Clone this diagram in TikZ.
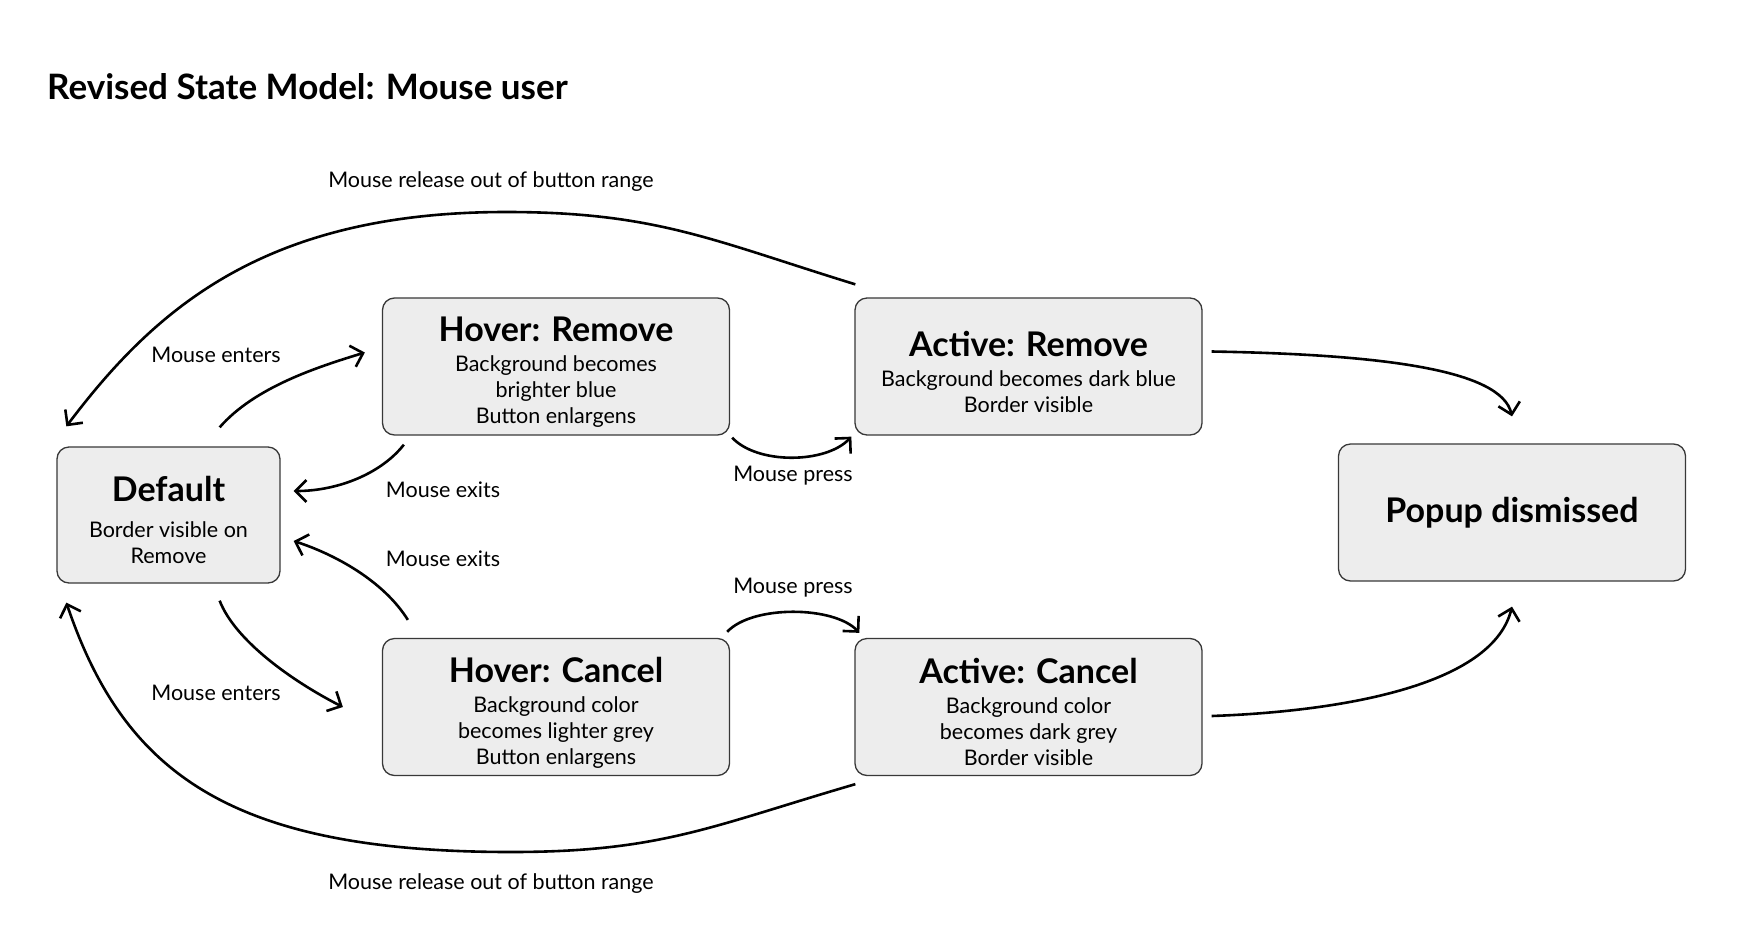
\documentclass[tikz,border=0pt]{standalone}
\usepackage{fontspec}
\setmainfont{Lato}
\usepackage{tikz}
\usetikzlibrary{arrows.meta}

\definecolor{boxfill}{HTML}{EDEDED}
\definecolor{boxline}{HTML}{383838}

\tikzset{
	state/.style={draw=boxline, fill=boxfill, line width=1.3pt, rounded corners=12pt,
		minimum width=347pt, minimum height=137pt, inner sep=4pt, align=center,
		font=\fontsize{21.5}{26}\selectfont},
	lbl/.style={font=\fontsize{21.5}{26}\selectfont, inner sep=0pt},
	flow/.style={line width=2.6pt, -{Straight Barb[length=11pt,width=22pt]}},
}
\newcommand{\sttitle}[1]{{\fontsize{34}{38}\selectfont\bfseries\rule{0pt}{36pt}#1}}

\begin{document}
\begin{tikzpicture}[x=1pt,y=1pt]
	\useasboundingbox (0,0) rectangle (1762,-924);
	\node[anchor=base west, inner sep=0pt, font=\fontsize{35}{40}\selectfont\bfseries] (title) at (47,-99) {Revised State Model: Mouse user};

	% states
	\node[state, minimum width=223pt, minimum height=136pt] (def) at (168.5,-515) {\sttitle{Default}\\[10pt] Border visible on\\ Remove};
	\node[state] (hr) at (556,-366.5) {\sttitle{Hover: Remove}\\[3.5pt] Background becomes\\ brighter blue\\ Button enlargens};
	\node[state] (ar) at (1028.5,-366.5) {\sttitle{Active: Remove}\\[4pt] Background becomes dark blue\\ Border visible};
	\node[state] (hc) at (556,-707) {\sttitle{Hover: Cancel}\\[4pt] Background color\\ becomes lighter grey\\ Button enlargens};
	\node[state] (ac) at (1028.5,-707) {\sttitle{Active: Cancel}\\[4pt] Background color\\ becomes dark grey\\ Border visible};
	\node[state] (pd) at (1512,-512.5) {{\fontsize{34}{38}\selectfont\bfseries Popup dismissed}};

	% transitions
	\path[flow]
	([shift={(-61,19)}]def.north east) edge[out=49, in=197, out distance=53pt, in distance=50pt] ([shift={(-17,14)}]hr.west)
	([shift={(22,-9)}]hr.south west) edge[out=232, in=0, out distance=36pt, in distance=45pt] ([shift={(13,24)}]def.east)
	([shift={(26,18)}]hc.north west) edge[out=122, in=-18, out distance=47pt, in distance=42pt] ([shift={(13,-26)}]def.east)
	([shift={(-61,-17)}]def.south east) edge[out=-69, in=153, out distance=43pt, in distance=56pt] ([shift={(-39,0)}]hc.west)
	([shift={(2,-2)}]hr.south east) edge[out=-47, in=-133, distance=37pt] ([shift={(-3,-1)}]ar.south west)
	([shift={(-3,6)}]hc.north east) edge[out=47, in=133, distance=37pt] ([shift={(5,5)}]ac.north west)
	([shift={(9,15)}]ar.east) edge[out=-1, in=103, out distance=170pt, in distance=48pt] ([shift={(0,27)}]pd.north)
	([shift={(9,-9)}]ac.east) edge[out=2, in=-104, out distance=109pt, in distance=87pt] ([shift={(0,-25)}]pd.south);

	\coordinate (relTop) at (506,-212);
	\coordinate (relBot) at (511,-852);
	\draw[flow] ([shift={(1,13)}]ar.north west) .. controls +(-143,44) and +(150,0) .. (relTop)
		.. controls +(-241,0) and +(89,118) .. ([shift={(10,20)}]def.north west);
	\draw[flow] ([shift={(1,-8)}]ac.south west) .. controls +(-144,-42) and +(150,0) .. (relBot)
		.. controls +(-280,0) and +(58,-171) .. ([shift={(10,-19)}]def.south west);

	% labels
	\node[lbl] (relTopLbl) at (491,-182) {Mouse release out of button range};
	\node[lbl] (relBotLbl) at (491,-884) {Mouse release out of button range};
	\node[lbl] (entR) at (216,-355) {Mouse enters};
	\node[lbl] (entC) at (216,-693) {Mouse enters};
	\node[lbl] (exR) at (443,-490) {Mouse exits};
	\node[lbl] (exC) at (443,-559) {Mouse exits};
	\node[lbl] (prR) at (793,-476) {Mouse press};
	\node[lbl] (prC) at (793,-588) {Mouse press};
\end{tikzpicture}
\end{document}
